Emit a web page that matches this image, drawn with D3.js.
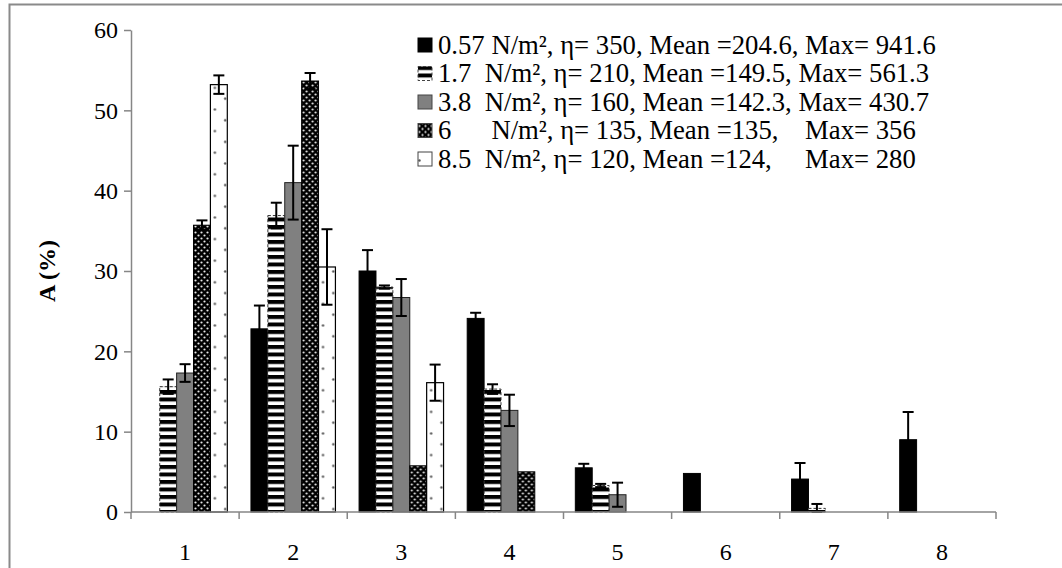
<!DOCTYPE html>
<html>
<head>
<meta charset="utf-8">
<script src="https://cdn.jsdelivr.net/npm/d3@7"></script>
<style>
  html, body { margin: 0; padding: 0; background: #fff; }
  svg { display: block; }
  svg text { font-family: "Liberation Serif", "Times New Roman", Times, "DejaVu Serif", serif; fill: #000; }
</style>
</head>
<body>
<svg id="chart" width="1062" height="568"></svg>
<script>
// Size classes on the x axis
const categories = ["1", "2", "3", "4", "5", "6", "7", "8"];

// Legend entries, one per shear stress level
const seriesLabels = [
  "0.57 N/m², η= 350, Mean =204.6, Max= 941.6",
  "1.7  N/m², η= 210, Mean =149.5, Max= 561.3",
  "3.8  N/m², η= 160, Mean =142.3, Max= 430.7",
  "6      N/m², η= 135, Mean =135,    Max= 356",
  "8.5  N/m², η= 120, Mean =124,     Max= 280"
];

// Percent values (A %) per size class, with error half-widths
const stress057 = [0, 22.8, 30.0, 24.1, 5.5, 4.8, 4.1, 9.0];
const stress057Err = [0, 2.9, 2.6, 0.7, 0.5, 0, 2.0, 3.45];
const stress17 = [15.6, 36.9, 28.0, 15.3, 3.3, 0, 0.45, 0];
const stress17Err = [0.9, 1.6, 0.2, 0.6, 0.2, 0, 0.55, 0];
const stress38 = [17.3, 41.0, 26.7, 12.65, 2.15, 0, 0, 0];
const stress38Err = [1.1, 4.6, 2.3, 1.95, 1.5, 0, 0, 0];
const stress6 = [35.7, 53.65, 5.75, 5.0, 0, 0, 0, 0];
const stress6Err = [0.6, 1.0, 0, 0, 0, 0, 0, 0];
const stress85 = [53.2, 30.5, 16.1, 0, 0, 0, 0, 0];
const stress85Err = [1.15, 4.7, 2.25, 0, 0, 0, 0, 0];

const yTicks = [0, 10, 20, 30, 40, 50, 60];

const seriesValues = [stress057, stress17, stress38, stress6, stress85];
const seriesErrors = [stress057Err, stress17Err, stress38Err, stress6Err, stress85Err];
const seriesKeys = d3.range(seriesValues.length);

const FONT = '"Liberation Serif", "Times New Roman", Times, "DejaVu Serif", serif';

const svg = d3.select("#chart");
const axisColor = "#868686";

// ---- fill patterns ----
const defs = svg.append("defs");

const stripes = defs.append("pattern").attr("id", "pat-stripes")
  .attr("patternUnits", "userSpaceOnUse").attr("width", 8).attr("height", 7.5);
stripes.append("rect").attr("width", 8).attr("height", 7.5).attr("fill", "#fff");
stripes.append("rect").attr("width", 8).attr("height", 4).attr("fill", "#000");

const dots = defs.append("pattern").attr("id", "pat-dots")
  .attr("patternUnits", "userSpaceOnUse").attr("width", 6).attr("height", 6);
dots.append("rect").attr("width", 6).attr("height", 6).attr("fill", "#000");
dots.append("circle").attr("cx", 1.5).attr("cy", 1.5).attr("r", 1.1).attr("fill", "#e6e6e6");
dots.append("circle").attr("cx", 4.5).attr("cy", 4.5).attr("r", 1.1).attr("fill", "#e6e6e6");

const sparse = defs.append("pattern").attr("id", "pat-sparse")
  .attr("patternUnits", "userSpaceOnUse").attr("width", 20.6).attr("height", 21.6);
sparse.append("rect").attr("width", 20.6).attr("height", 21.6).attr("fill", "#fff");
sparse.append("circle").attr("cx", 1.5).attr("cy", 1.5).attr("r", 1.2).attr("fill", "#555");
sparse.append("circle").attr("cx", 11.8).attr("cy", 12.3).attr("r", 1.2).attr("fill", "#555");

const seriesStyle = [
  { fill: "#000", stroke: "#000", dash: null, sw: 1 },
  { fill: "url(#pat-stripes)", stroke: "#333", dash: "3,2", sw: 1 },
  { fill: "#808080", stroke: "#222", dash: null, sw: 1 },
  { fill: "url(#pat-dots)", stroke: "#000", dash: null, sw: 1 },
  { fill: "url(#pat-sparse)", stroke: "#000", dash: null, sw: 1.2 }
];

// ---- outer frame ----
svg.append("path")
  .attr("d", "M9.5,568 L9.5,4.5 L1062,4.5")
  .attr("fill", "none").attr("stroke", "#8a8a8a").attr("stroke-width", 2);

// ---- scales ----
const plotLeft = 131, plotRight = 996, plotTop = 30, plotBottom = 512;

const x0 = d3.scaleBand().domain(categories).range([plotLeft, plotRight]).padding(0);
const x1 = d3.scaleBand().domain(seriesKeys).range([0, x0.bandwidth()])
  .paddingInner(0).paddingOuter(0.7);
const y = d3.scaleLinear().domain([0, 60]).range([plotBottom, plotTop]);

// ---- bars ----
const groups = svg.append("g").selectAll("g")
  .data(categories)
  .join("g")
  .attr("transform", d => `translate(${x0(d)},0)`);

groups.each(function (cat, ci) {
  const g = d3.select(this);
  seriesKeys.forEach(si => {
    const v = seriesValues[si][ci];
    if (v <= 0) return;
    const st = seriesStyle[si];
    g.append("rect")
      .attr("x", x1(si))
      .attr("y", y(v))
      .attr("width", x1.bandwidth())
      .attr("height", y(0) - y(v))
      .attr("fill", st.fill)
      .attr("stroke", st.stroke)
      .attr("stroke-width", st.sw)
      .attr("stroke-dasharray", st.dash);
  });
});

// ---- error bars ----
const errG = svg.append("g").attr("stroke", "#000").attr("stroke-width", 2).attr("fill", "none");
categories.forEach((cat, ci) => {
  seriesKeys.forEach(si => {
    const v = seriesValues[si][ci];
    const e = seriesErrors[si][ci];
    if (v <= 0 || e <= 0) return;
    const cx = x0(cat) + x1(si) + x1.bandwidth() / 2;
    const lo = Math.max(0, v - e), hi = v + e;
    const cap = 5.5;
    errG.append("line").attr("x1", cx).attr("x2", cx).attr("y1", y(lo)).attr("y2", y(hi));
    errG.append("line").attr("x1", cx - cap).attr("x2", cx + cap).attr("y1", y(hi)).attr("y2", y(hi));
    errG.append("line").attr("x1", cx - cap).attr("x2", cx + cap).attr("y1", y(lo)).attr("y2", y(lo));
  });
});

// ---- axes ----
const yAxis = d3.axisLeft(y).tickValues(yTicks).tickSize(7).tickPadding(6).tickSizeOuter(0);
const yg = svg.append("g").attr("transform", `translate(${plotLeft},0)`).call(yAxis)
  .attr("font-family", FONT).attr("font-size", 24);
yg.select(".domain").attr("stroke", axisColor).attr("stroke-width", 1.5);
yg.selectAll(".tick line").attr("stroke", axisColor).attr("stroke-width", 1.5);
yg.selectAll(".tick text").attr("fill", "#000");

// x axis line with boundary ticks between categories
const xg = svg.append("g").attr("font-family", FONT).attr("font-size", 24);
xg.append("line").attr("x1", plotLeft).attr("x2", plotRight).attr("y1", y(0)).attr("y2", y(0))
  .attr("stroke", axisColor).attr("stroke-width", 1.5);
const boundaries = categories.map(c => x0(c)).concat([plotRight]);
xg.selectAll("line.bt").data(boundaries).join("line").attr("class", "bt")
  .attr("x1", d => d).attr("x2", d => d).attr("y1", y(0)).attr("y2", y(0) + 7)
  .attr("stroke", axisColor).attr("stroke-width", 1.5);
xg.selectAll("text").data(categories).join("text")
  .attr("x", d => x0(d) + x0.bandwidth() / 2)
  .attr("y", 560)
  .attr("text-anchor", "middle")
  .text(d => d);

// y axis title
svg.append("text")
  .attr("transform", "translate(55,271) rotate(-90)")
  .attr("text-anchor", "middle")
  .attr("font-family", FONT)
  .attr("font-size", 24)
  .attr("font-weight", "bold")
  .text("A (%)");

// ---- legend ----
const legend = svg.append("g").attr("transform", "translate(418,45)")
  .attr("font-family", FONT).attr("font-size", 26.7);
seriesLabels.forEach((label, i) => {
  const row = legend.append("g").attr("transform", `translate(0,${i * 28.5})`);
  const st = seriesStyle[i];
  row.append("rect").attr("x", 0).attr("y", -7).attr("width", 14).attr("height", 14)
    .attr("fill", st.fill).attr("stroke", i === 0 ? "#000" : "#444")
    .attr("stroke-width", 1).attr("stroke-dasharray", st.dash);
  row.append("text").attr("x", 20).attr("y", 8.5)
    .style("white-space", "pre")
    .text(label);
});
</script>
</body>
</html>
